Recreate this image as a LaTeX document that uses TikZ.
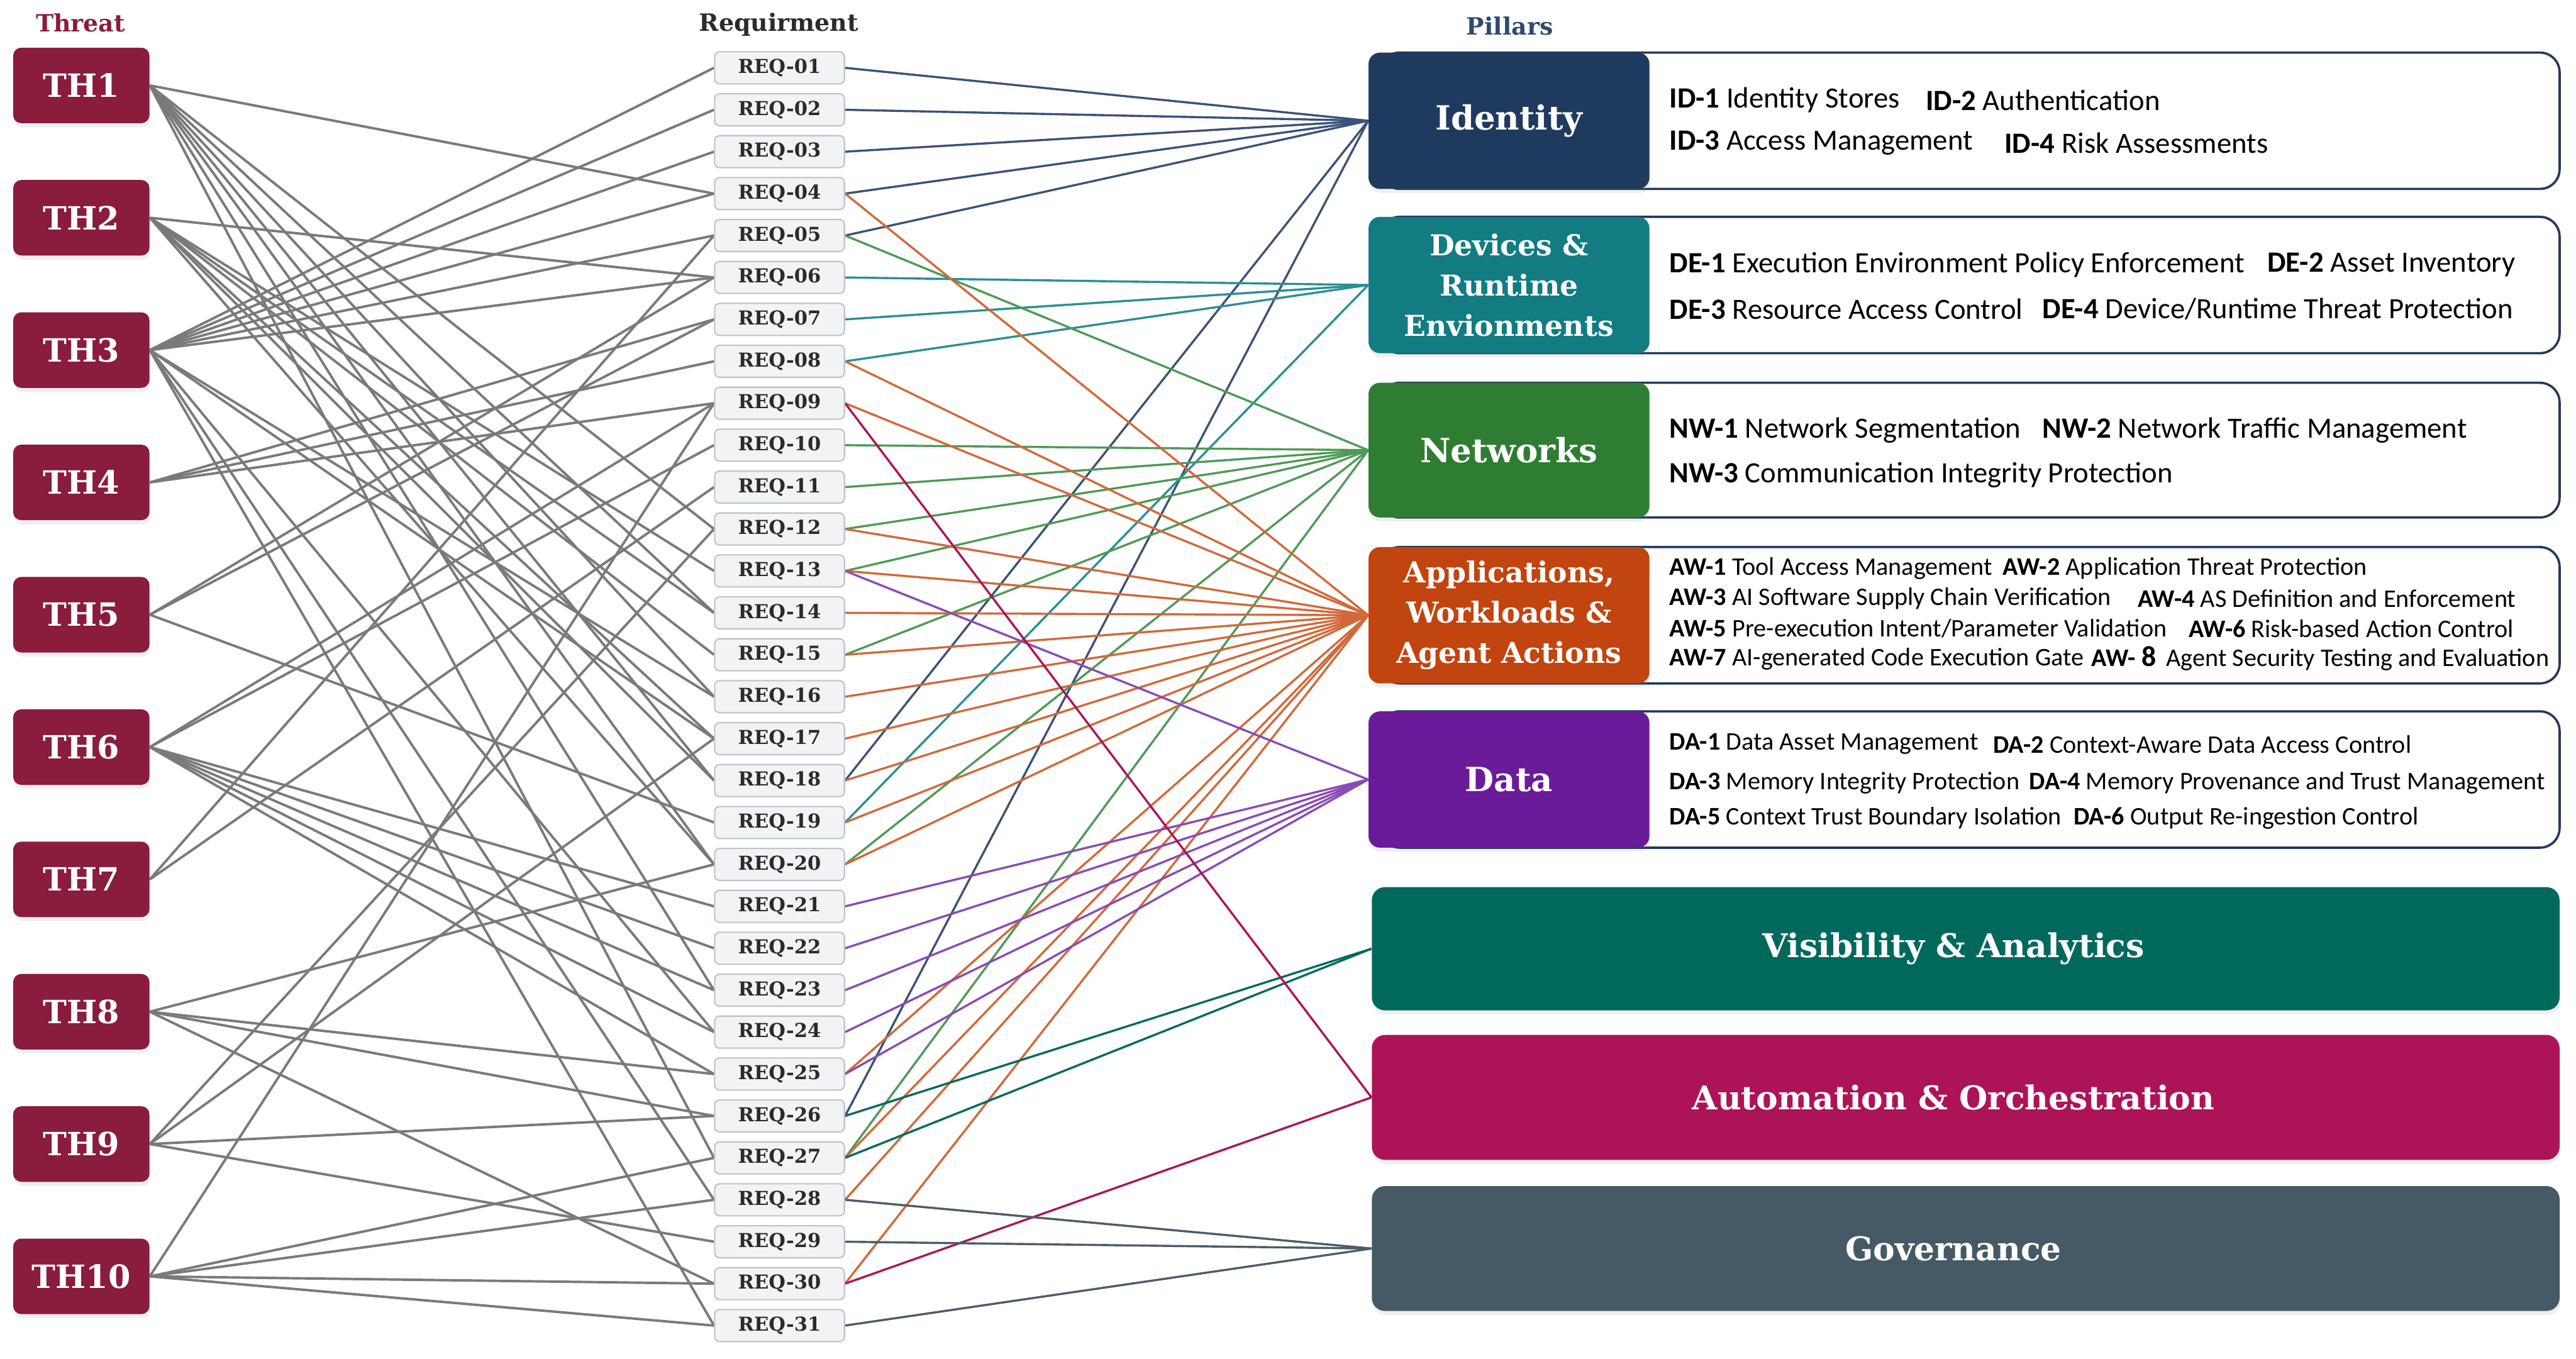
\documentclass[tikz,border=0pt]{standalone}
\usepackage{fontspec}
\setmainfont{DejaVu Serif}
\newfontfamily\calib{Carlito}
\usetikzlibrary{shadows}
\pgfdeclarelayer{bg}
\pgfsetlayers{bg,main}
\definecolor{thred}{HTML}{8A1C3D}
\definecolor{reqfill}{HTML}{F1F3F5}
\definecolor{reqdraw}{HTML}{BCC3CA}
\definecolor{reqtext}{HTML}{2B2B2B}
\definecolor{tgrey}{HTML}{7A7A7A}
\definecolor{pborder}{HTML}{23395B}
\definecolor{idcol}{HTML}{1F3A5F}
\definecolor{decol}{HTML}{127C82}
\definecolor{nwcol}{HTML}{2E7D32}
\definecolor{awcol}{HTML}{C2440E}
\definecolor{dacol}{HTML}{6A1B9A}
\definecolor{vacol}{HTML}{00695C}
\definecolor{aucol}{HTML}{AD1457}
\definecolor{gocol}{HTML}{455A64}
\definecolor{idln}{HTML}{3A5378}
\definecolor{deln}{HTML}{2A8F96}
\definecolor{nwln}{HTML}{4E9A55}
\definecolor{awln}{HTML}{D2693A}
\definecolor{daln}{HTML}{8A4BB5}
\definecolor{valn}{HTML}{006B5E}
\definecolor{auln}{HTML}{AD1457}
\definecolor{goln}{HTML}{4B5D69}
\definecolor{pilhead}{HTML}{2F4A6E}
\begin{document}
\begin{tikzpicture}[x=1pt,y=-1pt,
  softshadow/.style={drop shadow={opacity=0.13, shadow xshift=0.5pt, shadow yshift=-2.5pt}},
  thbox/.style={rounded corners=5pt, fill=thred, minimum width=83pt, minimum height=46pt, text=white, font=\bfseries\fontsize{19.5}{20}\selectfont, inner sep=0pt, softshadow},
  reqbox/.style={rounded corners=3pt, fill=reqfill, draw=reqdraw, line width=0.8pt, minimum width=79pt, minimum height=19.5pt, text=reqtext, font=\bfseries\fontsize{11.7}{12}\selectfont, inner sep=0pt},
  tline/.style={draw=tgrey, line width=1.5pt},
  cline/.style={line width=1.3pt},
  pcol/.style={rounded corners=7pt, minimum width=171pt, text=white, align=center, font=\bfseries\fontsize{20.3}{24}\selectfont, inner sep=0pt, softshadow},
  pcolsm/.style={pcol, font=\bfseries\fontsize{17.5}{24.5}\selectfont},
  pouter/.style={draw=pborder, line width=1.4pt, rounded corners=12pt, fill=white},
  pwide/.style={rounded corners=8pt, minimum width=723pt, minimum height=75pt, inner sep=0pt, softshadow},
  pwtext/.style={text=white, font=\bfseries\fontsize{19.9}{20}\selectfont, inner sep=0pt},
  ptx/.style={anchor=west, inner sep=0pt, text=black},
  head/.style={font=\bfseries\fontsize{14.5}{15}\selectfont}
]
\useasboundingbox (0,0) rectangle (1568,827);

% headers
\node[head, text=thred] (hth) at (49,14) {Threat};
\node[head, text=reqtext] (hrq) at (474,15) {Requirment};
\node[head, text=pilhead] (hpl) at (919,16) {Pillars};

% threats
\foreach \i in {1,...,10} {
  \node[thbox] (TH\i) at (49.5,{52+80.55*(\i-1)}) {TH\i};
}
% requirements
\foreach \j in {1,...,31} {
  \node[reqbox] (R\j) at (474.5,{41.3+25.52*(\j-1)}) {REQ-\ifnum\j<10 0\fi\j};
}

% pillars with detail boxes
\draw[pouter] (840,32) rectangle (1558,115);
\draw[pouter] (840,132) rectangle (1558,215);
\draw[pouter] (840,233) rectangle (1558,315);
\draw[pouter] (840,333) rectangle (1558,416);
\draw[pouter] (840,433) rectangle (1558,516);
\node[pcol, fill=idcol, minimum height=83pt] (PID) at (918.5,73.5) {Identity};
\node[pcolsm, fill=decol, minimum height=83pt] (PDE) at (918.5,173.5) {Devices \&\\Runtime\\Envionments};
\node[pcol, fill=nwcol, minimum height=82pt] (PNW) at (918.5,274) {Networks};
\node[pcolsm, fill=awcol, minimum height=83pt] (PAW) at (918.5,374.5) {Applications,\\Workloads \&\\Agent Actions};
\node[pcol, fill=dacol, minimum height=83pt] (PDA) at (918.5,474.5) {Data};
\node[pwide, fill=vacol] (PVA) at (1196.5,577.5) {};
\node[pwide, fill=aucol, minimum height=76pt] (PAU) at (1196.5,668) {};
\node[pwide, fill=gocol, minimum height=76pt] (PGO) at (1196.5,760) {};
\node[pwtext] (tva) at (1189,577.5) {Visibility \& Analytics};
\node[pwtext] (tau) at (1189,668) {Automation \& Orchestration};
\node[pwtext] (tgo) at (1189,760) {Governance};

% detail texts
\begin{scope}[every node/.append style={ptx, font=\calib\fontsize{17.9}{19}\selectfont}]
\node (id1) at (1016,61) {\textbf{ID-1} Identity Stores};
\node (id2) at (1172,61) {\textbf{ID-2} Authentication};
\node (id3) at (1016,87) {\textbf{ID-3} Access Management};
\node (id4) at (1220,87) {\textbf{ID-4} Risk Assessments};
\node (nw1) at (1016,262) {\textbf{NW-1} Network Segmentation};
\node (nw2) at (1243,262) {\textbf{NW-2} Network Traffic Management};
\node (nw3) at (1016,289) {\textbf{NW-3} Communication Integrity Protection};
\node (de1) at (1016,161) {\textbf{DE-1} Execution Environment Policy Enforcement};
\node (de2) at (1380,161) {\textbf{DE-2} Asset Inventory};
\node (de3) at (1016,188) {\textbf{DE-3} Resource Access Control};
\node (de4) at (1243,188) {\textbf{DE-4} Device/Runtime Threat Protection};
\end{scope}
\begin{scope}[every node/.append style={ptx, font=\calib\fontsize{15.4}{16}\selectfont}]
\node (aw1) at (1016,346) {\textbf{AW-1} Tool Access Management};
\node (aw2) at (1219,346) {\textbf{AW-2} Application Threat Protection};
\node (aw3) at (1016,364.5) {\textbf{AW-3} AI Software Supply Chain Verification};
\node (aw4) at (1301,364.5) {\textbf{AW-4} AS Definition and Enforcement};
\node (aw5) at (1016,382.7) {\textbf{AW-5} Pre-execution Intent/Parameter Validation};
\node (aw6) at (1332,382.7) {\textbf{AW-6} Risk-based Action Control};
\node (aw7) at (1016,401) {\textbf{AW-7} AI-generated Code Execution Gate};
\node (aw8) at (1273,401) {\textbf{AW- {\fontsize{17.5}{18}\selectfont 8}}\, Agent Security Testing and Evaluation};
\node (da1) at (1016,453) {\textbf{DA-1} Data Asset Management};
\node (da2) at (1213,453) {\textbf{DA-2} Context-Aware Data Access Control};
\node (da3) at (1016,476.5) {\textbf{DA-3} Memory Integrity Protection};
\node (da4) at (1235,476.5) {\textbf{DA-4} Memory Provenance and Trust Management};
\node (da5) at (1016,498) {\textbf{DA-5} Context Trust Boundary Isolation};
\node (da6) at (1262,498) {\textbf{DA-6} Output Re-ingestion Control};
\end{scope}

\begin{pgfonlayer}{bg}
% threat -> requirement
\foreach \t/\rs in {1/{4,12,14,16,18,20,23,27}, 2/{6,13,14,15,17,18,20}, 3/{1,2,3,4,5,6,16,17,24,28,31}, 4/{7,8,9}, 5/{6,7,19}, 6/{9,10,21,22,23,24,25}, 7/{5,11}, 8/{20,25,26,30}, 9/{12,17,26,29}, 10/{9,27,28,30,31}} {
  \foreach \r in \rs { \draw[tline] (TH\t.east) -- (R\r.west); }
}
% requirement -> pillar
\foreach \r in {1,2,3,4,5,18,26} { \draw[cline, idln] (R\r.east) -- (PID.west); }
\foreach \r in {6,7,8,19} { \draw[cline, deln] (R\r.east) -- (PDE.west); }
\foreach \r in {5,10,11,12,13,15,20,27} { \draw[cline, nwln] (R\r.east) -- (PNW.west); }
\foreach \r in {4,8,9,12,13,14,15,16,17,18,19,20,25,27,28,30} { \draw[cline, awln] (R\r.east) -- (PAW.west); }
\foreach \r in {13,21,22,23,24,25} { \draw[cline, daln] (R\r.east) -- (PDA.west); }
\foreach \r in {26,27} { \draw[cline, valn] (R\r.east) -- (PVA.west); }
\foreach \r in {9,30} { \draw[cline, auln] (R\r.east) -- (PAU.west); }
\foreach \r in {28,29,31} { \draw[cline, goln] (R\r.east) -- (PGO.west); }
\end{pgfonlayer}
\end{tikzpicture}
\end{document}
